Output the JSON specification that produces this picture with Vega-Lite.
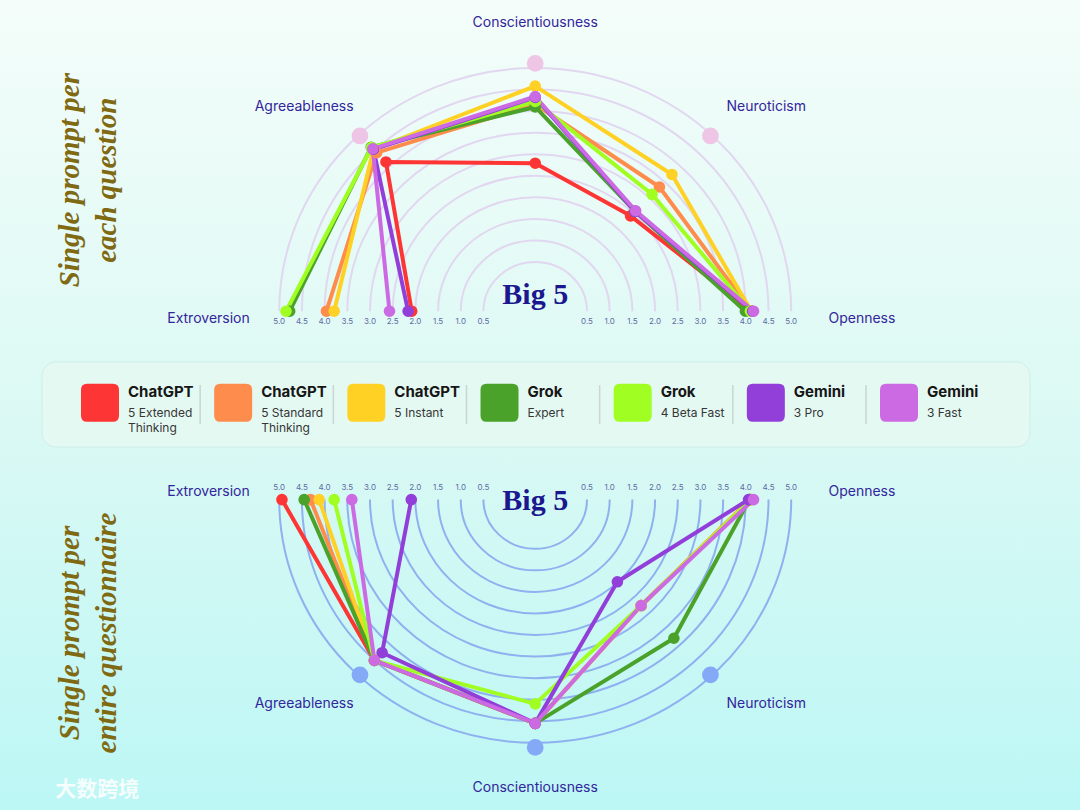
{
  "$schema": "https://vega.github.io/schema/vega-lite/v6.json",
  "width": 1080,
  "height": 810,
  "padding": 0,
  "autosize": "none",
  "background": "#e3faf5",
  "config": {"view": {"stroke": null}},
  "datasets": {
    "scores": [
      {"chart": "top", "model": "ChatGPT 5 Extended Thinking", "trait": "Extroversion", "score": 2.08},
      {"chart": "top", "model": "ChatGPT 5 Extended Thinking", "trait": "Agreeableness", "score": 4.01},
      {"chart": "top", "model": "ChatGPT 5 Extended Thinking", "trait": "Conscientiousness", "score": 2.62},
      {"chart": "top", "model": "ChatGPT 5 Extended Thinking", "trait": "Neuroticism", "score": 2.33},
      {"chart": "top", "model": "ChatGPT 5 Extended Thinking", "trait": "Openness", "score": 4.12},
      {"chart": "top", "model": "ChatGPT 5 Standard Thinking", "trait": "Extroversion", "score": 3.96},
      {"chart": "top", "model": "ChatGPT 5 Standard Thinking", "trait": "Agreeableness", "score": 4.3},
      {"chart": "top", "model": "ChatGPT 5 Standard Thinking", "trait": "Conscientiousness", "score": 3.92},
      {"chart": "top", "model": "ChatGPT 5 Standard Thinking", "trait": "Neuroticism", "score": 3.23},
      {"chart": "top", "model": "ChatGPT 5 Standard Thinking", "trait": "Openness", "score": 4.12},
      {"chart": "top", "model": "ChatGPT 5 Instant", "trait": "Extroversion", "score": 3.79},
      {"chart": "top", "model": "ChatGPT 5 Instant", "trait": "Agreeableness", "score": 4.4},
      {"chart": "top", "model": "ChatGPT 5 Instant", "trait": "Conscientiousness", "score": 4.32},
      {"chart": "top", "model": "ChatGPT 5 Instant", "trait": "Neuroticism", "score": 3.62},
      {"chart": "top", "model": "ChatGPT 5 Instant", "trait": "Openness", "score": 4.12},
      {"chart": "top", "model": "Grok Expert", "trait": "Extroversion", "score": 4.77},
      {"chart": "top", "model": "Grok Expert", "trait": "Agreeableness", "score": 4.47},
      {"chart": "top", "model": "Grok Expert", "trait": "Conscientiousness", "score": 3.86},
      {"chart": "top", "model": "Grok Expert", "trait": "Neuroticism", "score": 2.47},
      {"chart": "top", "model": "Grok Expert", "trait": "Openness", "score": 3.99},
      {"chart": "top", "model": "Grok 4 Beta Fast", "trait": "Extroversion", "score": 4.85},
      {"chart": "top", "model": "Grok 4 Beta Fast", "trait": "Agreeableness", "score": 4.46},
      {"chart": "top", "model": "Grok 4 Beta Fast", "trait": "Conscientiousness", "score": 3.98},
      {"chart": "top", "model": "Grok 4 Beta Fast", "trait": "Neuroticism", "score": 3.0},
      {"chart": "top", "model": "Grok 4 Beta Fast", "trait": "Openness", "score": 4.1},
      {"chart": "top", "model": "Gemini 3 Pro", "trait": "Extroversion", "score": 2.16},
      {"chart": "top", "model": "Gemini 3 Pro", "trait": "Agreeableness", "score": 4.4},
      {"chart": "top", "model": "Gemini 3 Pro", "trait": "Conscientiousness", "score": 4.07},
      {"chart": "top", "model": "Gemini 3 Pro", "trait": "Neuroticism", "score": 2.47},
      {"chart": "top", "model": "Gemini 3 Pro", "trait": "Openness", "score": 4.15},
      {"chart": "top", "model": "Gemini 3 Fast", "trait": "Extroversion", "score": 2.57},
      {"chart": "top", "model": "Gemini 3 Fast", "trait": "Agreeableness", "score": 4.42},
      {"chart": "top", "model": "Gemini 3 Fast", "trait": "Conscientiousness", "score": 4.09},
      {"chart": "top", "model": "Gemini 3 Fast", "trait": "Neuroticism", "score": 2.49},
      {"chart": "top", "model": "Gemini 3 Fast", "trait": "Openness", "score": 4.17},
      {"chart": "bottom", "model": "ChatGPT 5 Extended Thinking", "trait": "Extroversion", "score": 4.94},
      {"chart": "bottom", "model": "ChatGPT 5 Extended Thinking", "trait": "Agreeableness", "score": 4.37},
      {"chart": "bottom", "model": "ChatGPT 5 Extended Thinking", "trait": "Conscientiousness", "score": 4.29},
      {"chart": "bottom", "model": "ChatGPT 5 Extended Thinking", "trait": "Neuroticism", "score": 2.66},
      {"chart": "bottom", "model": "ChatGPT 5 Extended Thinking", "trait": "Openness", "score": 4.1},
      {"chart": "bottom", "model": "ChatGPT 5 Standard Thinking", "trait": "Extroversion", "score": 4.31},
      {"chart": "bottom", "model": "ChatGPT 5 Standard Thinking", "trait": "Agreeableness", "score": 4.37},
      {"chart": "bottom", "model": "ChatGPT 5 Standard Thinking", "trait": "Conscientiousness", "score": 4.29},
      {"chart": "bottom", "model": "ChatGPT 5 Standard Thinking", "trait": "Neuroticism", "score": 2.66},
      {"chart": "bottom", "model": "ChatGPT 5 Standard Thinking", "trait": "Openness", "score": 4.1},
      {"chart": "bottom", "model": "ChatGPT 5 Instant", "trait": "Extroversion", "score": 4.12},
      {"chart": "bottom", "model": "ChatGPT 5 Instant", "trait": "Agreeableness", "score": 4.37},
      {"chart": "bottom", "model": "ChatGPT 5 Instant", "trait": "Conscientiousness", "score": 4.29},
      {"chart": "bottom", "model": "ChatGPT 5 Instant", "trait": "Neuroticism", "score": 2.66},
      {"chart": "bottom", "model": "ChatGPT 5 Instant", "trait": "Openness", "score": 4.1},
      {"chart": "bottom", "model": "Grok Expert", "trait": "Extroversion", "score": 4.45},
      {"chart": "bottom", "model": "Grok Expert", "trait": "Agreeableness", "score": 4.37},
      {"chart": "bottom", "model": "Grok Expert", "trait": "Conscientiousness", "score": 4.29},
      {"chart": "bottom", "model": "Grok Expert", "trait": "Neuroticism", "score": 3.68},
      {"chart": "bottom", "model": "Grok Expert", "trait": "Openness", "score": 4.08},
      {"chart": "bottom", "model": "Grok 4 Beta Fast", "trait": "Extroversion", "score": 3.79},
      {"chart": "bottom", "model": "Grok 4 Beta Fast", "trait": "Agreeableness", "score": 4.37},
      {"chart": "bottom", "model": "Grok 4 Beta Fast", "trait": "Conscientiousness", "score": 3.86},
      {"chart": "bottom", "model": "Grok 4 Beta Fast", "trait": "Neuroticism", "score": 2.66},
      {"chart": "bottom", "model": "Grok 4 Beta Fast", "trait": "Openness", "score": 4.12},
      {"chart": "bottom", "model": "Gemini 3 Pro", "trait": "Extroversion", "score": 2.09},
      {"chart": "bottom", "model": "Gemini 3 Pro", "trait": "Agreeableness", "score": 4.13},
      {"chart": "bottom", "model": "Gemini 3 Pro", "trait": "Conscientiousness", "score": 4.29},
      {"chart": "bottom", "model": "Gemini 3 Pro", "trait": "Neuroticism", "score": 1.92},
      {"chart": "bottom", "model": "Gemini 3 Pro", "trait": "Openness", "score": 4.06},
      {"chart": "bottom", "model": "Gemini 3 Fast", "trait": "Extroversion", "score": 3.4},
      {"chart": "bottom", "model": "Gemini 3 Fast", "trait": "Agreeableness", "score": 4.37},
      {"chart": "bottom", "model": "Gemini 3 Fast", "trait": "Conscientiousness", "score": 4.29},
      {"chart": "bottom", "model": "Gemini 3 Fast", "trait": "Neuroticism", "score": 2.66},
      {"chart": "bottom", "model": "Gemini 3 Fast", "trait": "Openness", "score": 4.17}
    ],
    "axes": [
      {"chart": "top", "trait": "Extroversion"},
      {"chart": "top", "trait": "Agreeableness"},
      {"chart": "top", "trait": "Conscientiousness"},
      {"chart": "top", "trait": "Neuroticism"},
      {"chart": "top", "trait": "Openness"},
      {"chart": "bottom", "trait": "Extroversion"},
      {"chart": "bottom", "trait": "Agreeableness"},
      {"chart": "bottom", "trait": "Conscientiousness"},
      {"chart": "bottom", "trait": "Neuroticism"},
      {"chart": "bottom", "trait": "Openness"}
    ],
    "ticks": [
      {"tick": 0.5}, {"tick": 1.0}, {"tick": 1.5}, {"tick": 2.0}, {"tick": 2.5},
      {"tick": 3.0}, {"tick": 3.5}, {"tick": 4.0}, {"tick": 4.5}, {"tick": 5.0}
    ],
    "models": [
      {"model": "ChatGPT 5 Extended Thinking", "brand": "ChatGPT", "variant": "5 Extended\nThinking"},
      {"model": "ChatGPT 5 Standard Thinking", "brand": "ChatGPT", "variant": "5 Standard\nThinking"},
      {"model": "ChatGPT 5 Instant", "brand": "ChatGPT", "variant": "5 Instant"},
      {"model": "Grok Expert", "brand": "Grok", "variant": "Expert"},
      {"model": "Grok 4 Beta Fast", "brand": "Grok", "variant": "4 Beta Fast"},
      {"model": "Gemini 3 Pro", "brand": "Gemini", "variant": "3 Pro"},
      {"model": "Gemini 3 Fast", "brand": "Gemini", "variant": "3 Fast"}
    ],
    "panels": [
      {"chart": "top", "title": "Single prompt per\neach question"},
      {"chart": "bottom", "title": "Single prompt per\nentire questionnaire"}
    ]
  },
  "resolve": {"scale": {"x": "independent"}},
  "layer": [
    {
      "data": {"values": [{}]},
      "mark": {"type": "rect", "fill": {"gradient": "linear", "x1": 0, "y1": 0, "x2": 0, "y2": 1, "stops": [{"offset": 0, "color": "#f4fdfa"}, {"offset": 0.5, "color": "#dcf9f4"}, {"offset": 1, "color": "#bcf7f5"}]}},
      "encoding": {
        "x": {"datum": -11.794, "type": "quantitative", "scale": {"domain": [-11.794, 12.005], "nice": false, "zero": false}, "axis": null},
        "x2": {"datum": 12.005},
        "y": {"datum": 6.858, "type": "quantitative", "scale": {"domain": [-10.992, 6.858], "nice": false, "zero": false}, "axis": null},
        "y2": {"datum": -10.992}
      }
    },
    {
      "data": {"name": "ticks"},
      "transform": [{"calculate": "datum.tick + 0.641", "as": "dd"}],
      "mark": {"type": "point", "shape": "M -1 0 A 1 0.95 0 0 1 1 0", "filled": false, "stroke": "#e2d7f0", "strokeWidth": 2, "opacity": 1},
      "encoding": {
        "x": {"datum": 0, "type": "quantitative", "scale": {"domain": [-11.794, 12.005], "nice": false, "zero": false}, "axis": null},
        "y": {"datum": 0, "type": "quantitative", "scale": {"domain": [-10.992, 6.858], "nice": false, "zero": false}, "axis": null},
        "size": {"field": "dd", "type": "quantitative", "scale": {"type": "pow", "exponent": 2, "domain": [0, 10], "range": [0, 823744]}, "legend": null}
      }
    },
    {
      "data": {"name": "ticks"},
      "transform": [{"calculate": "datum.tick + 0.641", "as": "dd"}],
      "mark": {"type": "point", "shape": "M -1 0 A 1 0.95 0 0 0 1 0", "filled": false, "stroke": "#8fb1ef", "strokeWidth": 2, "opacity": 1},
      "encoding": {
        "x": {"datum": 0, "type": "quantitative", "scale": {"domain": [-11.794, 12.005], "nice": false, "zero": false}, "axis": null},
        "y": {"datum": -4.152, "type": "quantitative", "scale": {"domain": [-10.992, 6.858], "nice": false, "zero": false}, "axis": null},
        "size": {"field": "dd", "type": "quantitative", "scale": {"type": "pow", "exponent": 2, "domain": [0, 10], "range": [0, 823744]}, "legend": null}
      }
    },
    {
      "data": {"name": "axes"},
      "transform": [
        {"calculate": "indexof(['Extroversion','Agreeableness','Conscientiousness','Neuroticism','Openness'], datum.trait)", "as": "i"},
        {"calculate": "PI - datum.i * PI / 4", "as": "a"},
        {"calculate": "datum.chart == 'top' ? 1 : -1", "as": "sg"},
        {"calculate": "datum.chart == 'top' ? 0 : -4.152", "as": "cy"},
        {"filter": "datum.i >= 1 && datum.i <= 3"},
        {"calculate": "5.461 * cos(datum.a)", "as": "px"},
        {"calculate": "datum.cy + datum.sg * 5.461 * sin(datum.a)", "as": "py"}
      ],
      "mark": {"type": "point", "filled": true, "size": 280, "opacity": 1, "strokeWidth": 0},
      "encoding": {
        "x": {"field": "px", "type": "quantitative", "scale": {"domain": [-11.794, 12.005], "nice": false, "zero": false}, "axis": null},
        "y": {"field": "py", "type": "quantitative", "scale": {"domain": [-10.992, 6.858], "nice": false, "zero": false}, "axis": null},
        "fill": {"field": "chart", "type": "nominal", "scale": {"domain": ["top", "bottom"], "range": ["#efc5e6", "#84a9f6"]}, "legend": null}
      }
    },
    {
      "data": {"name": "ticks"},
      "transform": [
        {"calculate": "-(datum.tick + 0.641)", "as": "xl"},
        {"calculate": "datum.tick + 0.641", "as": "xr"},
        {"fold": ["xl", "xr"], "as": ["side", "tx"]}
      ],
      "mark": {"type": "text", "font": "Inter", "fontSize": 8, "color": "#5d6aa6", "baseline": "middle", "align": "center"},
      "encoding": {
        "x": {"field": "tx", "type": "quantitative", "scale": {"domain": [-11.794, 12.005], "nice": false, "zero": false}, "axis": null},
        "y": {"datum": -0.231, "type": "quantitative", "scale": {"domain": [-10.992, 6.858], "nice": false, "zero": false}, "axis": null},
        "text": {"field": "tick", "type": "quantitative", "format": ".1f"}
      }
    },
    {
      "data": {"name": "ticks"},
      "transform": [
        {"calculate": "-(datum.tick + 0.641)", "as": "xl"},
        {"calculate": "datum.tick + 0.641", "as": "xr"},
        {"fold": ["xl", "xr"], "as": ["side", "tx"]}
      ],
      "mark": {"type": "text", "font": "Inter", "fontSize": 8, "color": "#5d6aa6", "baseline": "middle", "align": "center"},
      "encoding": {
        "x": {"field": "tx", "type": "quantitative", "scale": {"domain": [-11.794, 12.005], "nice": false, "zero": false}, "axis": null},
        "y": {"datum": -3.898, "type": "quantitative", "scale": {"domain": [-10.992, 6.858], "nice": false, "zero": false}, "axis": null},
        "text": {"field": "tick", "type": "quantitative", "format": ".1f"}
      }
    },
    {
      "data": {"name": "axes"},
      "transform": [
        {"calculate": "indexof(['Extroversion','Agreeableness','Conscientiousness','Neuroticism','Openness'], datum.trait)", "as": "i"},
        {"calculate": "PI - datum.i * PI / 4", "as": "a"},
        {"calculate": "datum.chart == 'top' ? 1 : -1", "as": "sg"},
        {"calculate": "datum.chart == 'top' ? 0 : -4.152", "as": "cy"},
        {"calculate": "7.2 * cos(datum.a)", "as": "lx"},
        {"calculate": "datum.cy + datum.sg * 6.36 * sin(datum.a) - datum.sg * ((datum.i == 0 || datum.i == 4) ? 0.17 : 0)", "as": "ly"}
      ],
      "mark": {"type": "text", "font": "Inter", "fontSize": 14, "color": "#33259c", "baseline": "middle", "align": "center"},
      "encoding": {
        "x": {"field": "lx", "type": "quantitative", "scale": {"domain": [-11.794, 12.005], "nice": false, "zero": false}, "axis": null},
        "y": {"field": "ly", "type": "quantitative", "scale": {"domain": [-10.992, 6.858], "nice": false, "zero": false}, "axis": null},
        "text": {"field": "trait", "type": "nominal"}
      }
    },
    {
      "data": {"values": [{"label": "Big 5", "chart": "top"}, {"label": "Big 5", "chart": "bottom"}]},
      "transform": [{"calculate": "datum.chart == 'top' ? 0.159 : -4.37", "as": "by"}],
      "mark": {"type": "text", "font": "Liberation Serif", "fontSize": 30, "fontWeight": "bold", "color": "#1b178f", "baseline": "alphabetic", "align": "center"},
      "encoding": {
        "x": {"datum": 0, "type": "quantitative", "scale": {"domain": [-11.794, 12.005], "nice": false, "zero": false}, "axis": null},
        "y": {"field": "by", "type": "quantitative", "scale": {"domain": [-10.992, 6.858], "nice": false, "zero": false}, "axis": null},
        "text": {"field": "label", "type": "nominal"}
      }
    },
    {
      "data": {"name": "scores"},
      "transform": [
        {"calculate": "indexof(['Extroversion','Agreeableness','Conscientiousness','Neuroticism','Openness'], datum.trait)", "as": "i"},
        {"calculate": "PI - datum.i * PI / 4", "as": "a"},
        {"calculate": "datum.chart == 'top' ? 1 : -1", "as": "sg"},
        {"calculate": "datum.chart == 'top' ? 0 : -4.152", "as": "cy"},
        {"calculate": "(datum.score + 0.641) * cos(datum.a)", "as": "px"},
        {"calculate": "datum.cy + datum.sg * (datum.score + 0.641) * sin(datum.a)", "as": "py"}
      ],
      "mark": {"type": "line", "strokeWidth": 4, "strokeCap": "round", "strokeJoin": "round"},
      "encoding": {
        "x": {"field": "px", "type": "quantitative", "scale": {"domain": [-11.794, 12.005], "nice": false, "zero": false}, "axis": null},
        "y": {"field": "py", "type": "quantitative", "scale": {"domain": [-10.992, 6.858], "nice": false, "zero": false}, "axis": null},
        "color": {"field": "model", "type": "nominal", "scale": {"domain": ["ChatGPT 5 Extended Thinking", "ChatGPT 5 Standard Thinking", "ChatGPT 5 Instant", "Grok Expert", "Grok 4 Beta Fast", "Gemini 3 Pro", "Gemini 3 Fast"], "range": ["#fe3535", "#fe8c4c", "#fed124", "#4aa22a", "#a1fe22", "#923fda", "#cc6ae4"]}, "legend": null},
        "detail": {"field": "chart", "type": "nominal"},
        "order": {"field": "i", "type": "quantitative"}
      }
    },
    {
      "data": {"name": "scores"},
      "transform": [
        {"calculate": "indexof(['Extroversion','Agreeableness','Conscientiousness','Neuroticism','Openness'], datum.trait)", "as": "i"},
        {"calculate": "PI - datum.i * PI / 4", "as": "a"},
        {"calculate": "datum.chart == 'top' ? 1 : -1", "as": "sg"},
        {"calculate": "datum.chart == 'top' ? 0 : -4.152", "as": "cy"},
        {"calculate": "(datum.score + 0.641) * cos(datum.a)", "as": "px"},
        {"calculate": "datum.cy + datum.sg * (datum.score + 0.641) * sin(datum.a)", "as": "py"}
      ],
      "mark": {"type": "point", "filled": true, "size": 135, "opacity": 1, "strokeWidth": 0},
      "encoding": {
        "x": {"field": "px", "type": "quantitative", "scale": {"domain": [-11.794, 12.005], "nice": false, "zero": false}, "axis": null},
        "y": {"field": "py", "type": "quantitative", "scale": {"domain": [-10.992, 6.858], "nice": false, "zero": false}, "axis": null},
        "color": {"field": "model", "type": "nominal", "scale": {"domain": ["ChatGPT 5 Extended Thinking", "ChatGPT 5 Standard Thinking", "ChatGPT 5 Instant", "Grok Expert", "Grok 4 Beta Fast", "Gemini 3 Pro", "Gemini 3 Fast"], "range": ["#fe3535", "#fe8c4c", "#fed124", "#4aa22a", "#a1fe22", "#923fda", "#cc6ae4"]}, "legend": null}
      }
    },
    {
      "data": {"values": [{}]},
      "mark": {"type": "rect", "fill": "#e5f9f3", "stroke": "#cfeee6", "strokeWidth": 1, "cornerRadius": 14},
      "encoding": {
        "x": {"datum": -10.868, "type": "quantitative", "scale": {"domain": [-11.794, 12.005], "nice": false, "zero": false}, "axis": null},
        "x2": {"datum": 10.903},
        "y": {"datum": -1.119, "type": "quantitative", "scale": {"domain": [-10.992, 6.858], "nice": false, "zero": false}, "axis": null},
        "y2": {"datum": -2.993}
      }
    },
    {
      "data": {"name": "models"},
      "mark": {"type": "point", "filled": true, "opacity": 1, "strokeWidth": 0, "size": 1444, "shape": "M -0.68 -1 L 0.68 -1 Q 1 -1 1 -0.68 L 1 0.68 Q 1 1 0.68 1 L -0.68 1 Q -1 1 -1 0.68 L -1 -0.68 Q -1 -1 -0.68 -1 Z"},
      "encoding": {
        "x": {"field": "model", "type": "nominal", "sort": null, "scale": {"type": "point", "domain": ["ChatGPT 5 Extended Thinking", "ChatGPT 5 Standard Thinking", "ChatGPT 5 Instant", "Grok Expert", "Grok 4 Beta Fast", "Gemini 3 Pro", "Gemini 3 Fast"], "range": [100, 899], "padding": 0}, "axis": null},
        "y": {"datum": -2.019, "type": "quantitative", "scale": {"domain": [-10.992, 6.858], "nice": false, "zero": false}, "axis": null},
        "color": {"field": "model", "type": "nominal", "scale": {"domain": ["ChatGPT 5 Extended Thinking", "ChatGPT 5 Standard Thinking", "ChatGPT 5 Instant", "Grok Expert", "Grok 4 Beta Fast", "Gemini 3 Pro", "Gemini 3 Fast"], "range": ["#fe3535", "#fe8c4c", "#fed124", "#4aa22a", "#a1fe22", "#923fda", "#cc6ae4"]}, "legend": null}
      }
    },
    {
      "data": {"name": "models"},
      "transform": [{"filter": "datum.model != 'ChatGPT 5 Extended Thinking'"}],
      "mark": {"type": "rule", "stroke": "#c9d6d2", "strokeWidth": 1.5, "xOffset": -33},
      "encoding": {
        "x": {"field": "model", "type": "nominal", "sort": null, "scale": {"type": "point", "domain": ["ChatGPT 5 Extended Thinking", "ChatGPT 5 Standard Thinking", "ChatGPT 5 Instant", "Grok Expert", "Grok 4 Beta Fast", "Gemini 3 Pro", "Gemini 3 Fast"], "range": [100, 899], "padding": 0}, "axis": null},
        "y": {"datum": -1.626, "type": "quantitative", "scale": {"domain": [-10.992, 6.858], "nice": false, "zero": false}, "axis": null},
        "y2": {"datum": -2.485}
      }
    },
    {
      "data": {"name": "models"},
      "mark": {"type": "text", "font": "Inter", "fontSize": 15, "fontWeight": "bold", "color": "#161616", "align": "left", "baseline": "alphabetic", "dx": 28},
      "encoding": {
        "x": {"field": "model", "type": "nominal", "sort": null, "scale": {"type": "point", "domain": ["ChatGPT 5 Extended Thinking", "ChatGPT 5 Standard Thinking", "ChatGPT 5 Instant", "Grok Expert", "Grok 4 Beta Fast", "Gemini 3 Pro", "Gemini 3 Fast"], "range": [100, 899], "padding": 0}, "axis": null},
        "y": {"datum": -1.897, "type": "quantitative", "scale": {"domain": [-10.992, 6.858], "nice": false, "zero": false}, "axis": null},
        "text": {"field": "brand", "type": "nominal"}
      }
    },
    {
      "data": {"name": "models"},
      "mark": {"type": "text", "font": "Inter", "fontSize": 12, "color": "#363636", "align": "left", "baseline": "alphabetic", "dx": 28, "lineBreak": "\n", "lineHeight": 14.4},
      "encoding": {
        "x": {"field": "model", "type": "nominal", "sort": null, "scale": {"type": "point", "domain": ["ChatGPT 5 Extended Thinking", "ChatGPT 5 Standard Thinking", "ChatGPT 5 Instant", "Grok Expert", "Grok 4 Beta Fast", "Gemini 3 Pro", "Gemini 3 Fast"], "range": [100, 899], "padding": 0}, "axis": null},
        "y": {"datum": -2.338, "type": "quantitative", "scale": {"domain": [-10.992, 6.858], "nice": false, "zero": false}, "axis": null},
        "text": {"field": "variant", "type": "nominal"}
      }
    },
    {
      "data": {"name": "panels"},
      "transform": [{"calculate": "datum.chart == 'top' ? 2.887 : -7.091", "as": "ty"}],
      "mark": {"type": "text", "font": "Liberation Serif", "fontSize": 29, "fontWeight": "bold", "fontStyle": "italic", "color": "#7f6912", "align": "center", "baseline": "middle", "angle": 270, "lineBreak": "\n", "lineHeight": 37},
      "encoding": {
        "x": {"datum": -10.251, "type": "quantitative", "scale": {"domain": [-11.794, 12.005], "nice": false, "zero": false}, "axis": null},
        "y": {"field": "ty", "type": "quantitative", "scale": {"domain": [-10.992, 6.858], "nice": false, "zero": false}, "axis": null},
        "text": {"field": "title", "type": "nominal"}
      }
    },
    {
      "data": {"values": [{"mark": "大数跨境"}]},
      "mark": {"type": "text", "font": "Noto Sans CJK SC", "fontSize": 21, "fontWeight": "bold", "color": "#ffffff", "opacity": 0.85, "align": "center", "baseline": "middle"},
      "encoding": {
        "x": {"datum": -9.652, "type": "quantitative", "scale": {"domain": [-11.794, 12.005], "nice": false, "zero": false}, "axis": null},
        "y": {"datum": -10.551, "type": "quantitative", "scale": {"domain": [-10.992, 6.858], "nice": false, "zero": false}, "axis": null},
        "text": {"field": "mark", "type": "nominal"}
      }
    }
  ]
}
